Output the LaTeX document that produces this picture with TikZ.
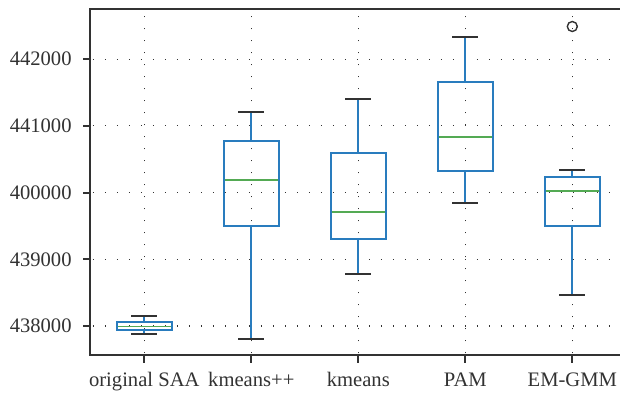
\documentclass[tikz,border=0pt]{standalone}
\usepackage{fontspec}
\setmainfont{Liberation Serif}
\definecolor{boxblue}{RGB}{41,124,190}
\definecolor{mediangreen}{RGB}{84,170,84}
\definecolor{axisgray}{RGB}{50,50,50}
\tikzset{
	box/.style={draw=boxblue, line width=1pt},
	whisker/.style={draw=boxblue, line width=1pt},
	whiskercap/.style={draw=axisgray, line width=1pt},
	median/.style={draw=mediangreen, line width=0.8pt},
	gridline/.style={draw=black!80, line width=0.6pt, dash pattern=on 0.6pt off 5.4pt},
	axisline/.style={draw=axisgray, line width=1pt},
	ticklabel/.style={font=\fontsize{10.3}{12}\selectfont, text=axisgray, inner sep=0pt},
	flier/.style={draw=axisgray, line width=0.7pt, circle, minimum size=5pt, inner sep=0pt}
}

\begin{document}
\begin{tikzpicture}[x=0.5pt,y=0.5pt]
	\useasboundingbox (0,0) rectangle (620,399);
	\begin{scope}[shift={(37.3,73)},xscale=107,yscale=66.7]
		% grid
		\foreach \k in {0,...,4}
			\draw[gridline] (0.52,\k) -- (5.446,\k);
		\foreach \i in {1,...,5}
			\draw[gridline] (\i,-0.41) -- (\i,4.72);

		% boxes: position / low / q1 / median / q3 / high
		\foreach \i/\lo/\qa/\md/\qb/\hi in {
			1/-0.125/-0.055/-0.01/0.06/0.155,
			2/-0.195/1.5/2.19/2.78/3.21,
			3/0.78/1.30/1.71/2.59/3.40,
			4/1.85/2.32/2.83/3.66/4.33,
			5/0.47/1.5/2.02/2.23/2.34
		}{
			\draw[whisker] (\i,\lo) -- (\i,\qa) (\i,\qb) -- (\i,\hi);
			\draw[whiskercap] ({\i-0.12},\lo) -- ({\i+0.12},\lo)
				({\i-0.12},\hi) -- ({\i+0.12},\hi);
			\draw[box] ({\i-0.255},\qa) rectangle ({\i+0.255},\qb);
			\draw[median] ({\i-0.25},\md) -- ({\i+0.25},\md);
		}
		\node[flier] (outlier) at (5,4.49) {};

		% axes
		\draw[axisline] (5.446,4.75) -- (0.4925,4.75) -- (0.4925,-0.435) -- (5.446,-0.435);
		\foreach \k/\lab in {0/438000,1/439000,2/400000,3/441000,4/442000}{
			\draw[axisline] (0.4925,\k) -- (0.4275,\k);
			\node[ticklabel,anchor=east] (ylab\k) at (0.324,\k) {\lab};
		}
		\foreach \i/\lab in {1/original SAA,2/kmeans++,3/kmeans,4/PAM,5/EM-GMM}{
			\draw[axisline] (\i,-0.435) -- (\i,-0.55);
			\node[ticklabel,anchor=base] (xlab\i) at (\i,-0.91) {\lab};
		}
	\end{scope}
\end{tikzpicture}
\end{document}
